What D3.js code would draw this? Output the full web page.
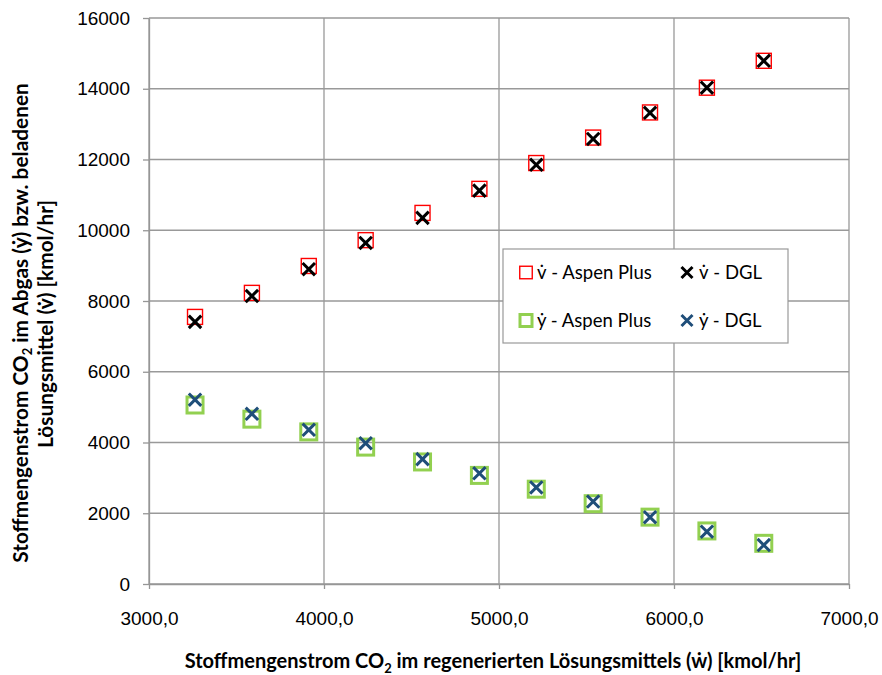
<!DOCTYPE html>
<html>
<head>
<meta charset="utf-8">
<script src="https://cdn.jsdelivr.net/npm/d3@7"></script>
<style>
  body { margin: 0; background: #fff; }
  svg { font-family: Lato, "Noto Sans", "DejaVu Sans", sans-serif; }
  .axis text { font-size: 19px; fill: #000; }
  .axis path, .axis line { stroke: #969696; stroke-width: 1.3; }
</style>
</head>
<body>
<svg id="Vis" width="882" height="675"></svg>
<script>
// CO2 flow in the regenerated solvent (w), kmol/hr
const wValues = [3263, 3588, 3913, 4238, 4563, 4888, 5213, 5538, 5863, 6188, 6513];

// loaded solvent (v)
const vAspen = [7550, 8230, 8990, 9720, 10490, 11170, 11900, 12620, 13330, 14030, 14790];
const vDgl   = [7410, 8140, 8900, 9640, 10350, 11120, 11850, 12580, 13320, 14030, 14790];

// flue gas (y)
const yAspen = [5060, 4660, 4300, 3870, 3450, 3070, 2680, 2270, 1890, 1500, 1150];
const yDgl   = [5210, 4810, 4360, 3980, 3530, 3130, 2730, 2330, 1890, 1480, 1100];

const xTicks = [3000, 4000, 5000, 6000, 7000];
const yTicks = [0, 2000, 4000, 6000, 8000, 10000, 12000, 14000, 16000];

const legendItems = [
  { label: "v\u0307 - Aspen Plus", kind: "square", color: "#ff0000", width: 1.4 },
  { label: "v\u0307 - DGL", kind: "x", color: "#000000", width: 3 },
  { label: "\u1E8F - Aspen Plus", kind: "square", color: "#92d050", width: 3 },
  { label: "\u1E8F - DGL", kind: "x", color: "#1f4e79", width: 3 }
];

const margin = { top: 18, bottom: 91, left: 149, right: 33 };

const svg = d3.select("svg#Vis");
const width = +svg.attr("width");
const height = +svg.attr("height");
const plotWidth = width - margin.left - margin.right;
const plotHeight = height - margin.top - margin.bottom;

const plot = svg.append("g").attr("transform", translate(margin.left, margin.top));

/* SCALES */
const xScale = d3.scaleLinear().domain([3000, 7000]).range([0, plotWidth]);
const yScale = d3.scaleLinear().domain([0, 16000]).range([plotHeight, 0]);

/* GRID */
const grid = plot.append("g").attr("id", "grid");
grid.selectAll("line.v").data(xTicks).enter().append("line")
  .attr("x1", d => xScale(d)).attr("x2", d => xScale(d))
  .attr("y1", 0).attr("y2", plotHeight)
  .attr("stroke", "#999").attr("stroke-width", 1.3);
grid.selectAll("line.h").data(yTicks).enter().append("line")
  .attr("x1", 0).attr("x2", plotWidth)
  .attr("y1", d => yScale(d)).attr("y2", d => yScale(d))
  .attr("stroke", "#999").attr("stroke-width", 1.3);

/* AXES */
const xAxis = d3.axisBottom(xScale).tickValues(xTicks).tickSize(5).tickSizeOuter(0)
  .tickFormat(d => d3.format(".1f")(d).replace(".", ","));
const yAxis = d3.axisLeft(yScale).tickValues(yTicks).tickSize(6).tickSizeOuter(0)
  .tickPadding(13)
  .tickFormat(d3.format("d"));

const xGroup = plot.append("g").attr("class", "axis")
  .attr("transform", translate(0, plotHeight))
  .call(xAxis);
xGroup.selectAll("text").attr("dy", null).attr("y", 41);
plot.append("g").attr("class", "axis").call(yAxis);

/* SERIES */
const series = [
  { values: vAspen, item: legendItems[0] },
  { values: yAspen, item: legendItems[2] },
  { values: vDgl, item: legendItems[1] },
  { values: yDgl, item: legendItems[3] }
];

series.forEach(s => {
  const pts = wValues.map((w, i) => [w, s.values[i]]);
  const g = plot.append("g");
  g.selectAll("g").data(pts).enter().append("g")
    .attr("transform", d => translate(xScale(d[0]), yScale(d[1])))
    .each(function() { drawMarker(d3.select(this), s.item); });
});

/* LEGEND */
const legend = svg.append("g").attr("transform", translate(503, 249));
legend.append("rect").attr("width", 285).attr("height", 94)
  .attr("fill", "#fff").attr("stroke", "#999").attr("stroke-width", 1.2);

legendItems.forEach((item, i) => {
  const col = i % 2, row = Math.floor(i / 2);
  const g = legend.append("g")
    .attr("transform", translate(23 + col * 161, 23.5 + row * 48));
  drawMarker(g, item, true);
  g.append("text").attr("x", 11 + col).attr("y", 6 + row * 0.5)
    .style("font-size", "18.5px").text(item.label);
});

/* AXIS TITLES */
const xTitle = svg.append("text")
  .attr("x", 493).attr("y", 668)
  .attr("text-anchor", "middle")
  .style("font-size", "20px").style("font-weight", "bold");
xTitle.append("tspan").text("Stoffmengenstrom CO");
xTitle.append("tspan").attr("dy", 5).style("font-size", "13px").text("2");
xTitle.append("tspan").attr("dy", -5).text(" im regenerierten Lösungsmittels (\u1E87) [kmol/hr]");

const yTitle = svg.append("text")
  .attr("transform", "translate(28,323) rotate(-90)")
  .attr("text-anchor", "middle")
  .style("font-size", "20.8px").style("font-weight", "bold");
yTitle.append("tspan").text("Stoffmengenstrom CO");
yTitle.append("tspan").attr("dy", 4).style("font-size", "13px").text("2");
yTitle.append("tspan").attr("dy", -4).text(" im Abgas (\u1E8F) bzw. beladenen");
svg.append("text")
  .attr("transform", "translate(53,324) rotate(-90)")
  .attr("text-anchor", "middle")
  .style("font-size", "20.8px").style("font-weight", "bold")
  .text("Lösungsmittel (v\u0307) [kmol/hr]");

function drawMarker(g, item, small) {
  if (item.kind === "square") {
    const s = item.width > 2 ? (small ? 12 : 16) : (small ? 12.5 : 15);
    g.append("rect")
      .attr("x", -s / 2).attr("y", -s / 2).attr("width", s).attr("height", s)
      .attr("fill", "none").attr("stroke", item.color).attr("stroke-width", item.width);
  } else {
    const r = small ? 5.5 : 6.2;
    g.append("path")
      .attr("d", `M${-r},${-r}L${r},${r}M${r},${-r}L${-r},${r}`)
      .attr("stroke", item.color).attr("stroke-width", item.width).attr("fill", "none");
  }
}

function translate(x, y) {
  return "translate(" + String(x) + "," + String(y) + ")";
}
</script>
</body>
</html>
